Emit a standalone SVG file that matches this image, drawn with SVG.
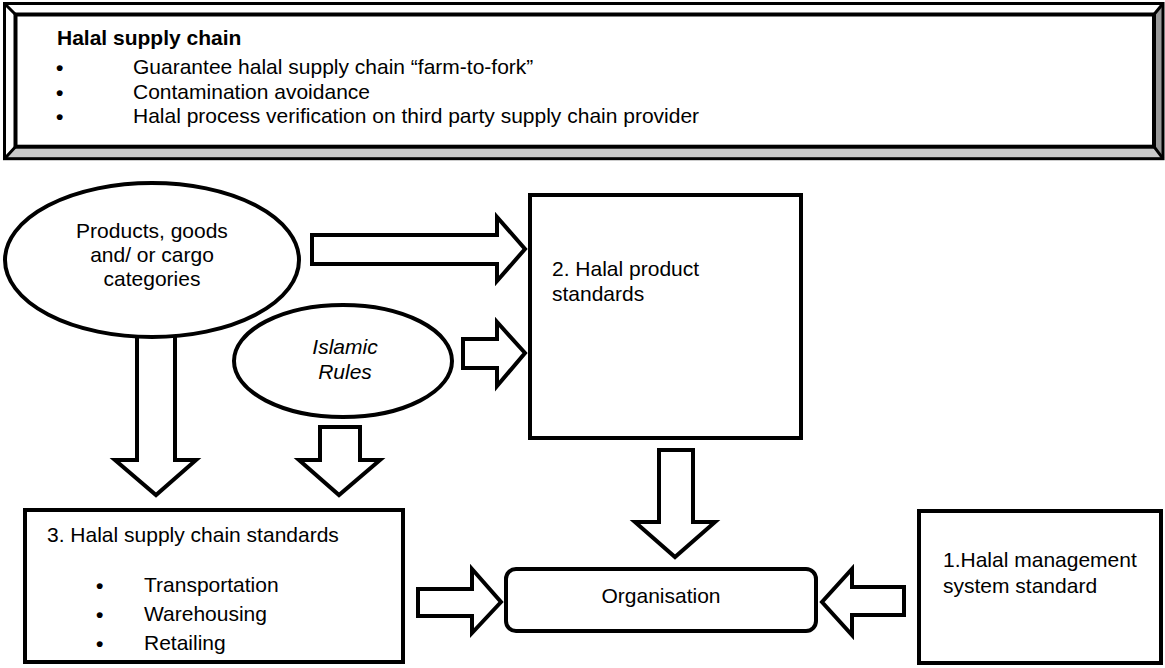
<svg xmlns="http://www.w3.org/2000/svg" width="1165" height="668" viewBox="0 0 1165 668">
<style>
text{font-family:"Liberation Sans",Arial,sans-serif;font-size:21px;fill:#000}
.b{font-weight:bold}
.i{font-style:italic}
.m{text-anchor:middle}
.bl{font-weight:bold}
.shape{fill:#fff;stroke:#000;stroke-width:4}
.arrow{fill:#fff;stroke:#000;stroke-width:4;stroke-linejoin:miter;stroke-miterlimit:10}
.edge{fill:none;stroke:#000;stroke-width:3}
</style>
<rect width="1165" height="668" fill="#fff"/>
<g id="header">
  <polygon points="4.5,3.5 1163,3.5 1154,14.5 15.5,14.5" fill="#fff"/>
  <polygon points="4.5,3.5 15.5,14.5 15.5,146.7 4.5,158.7" fill="#fff"/>
  <polygon points="1163,3.5 1163,158.7 1154,146.7 1154,14.5" fill="#999"/>
  <polygon points="4.5,158.7 15.5,146.7 1154,146.7 1163,158.7" fill="#c8c8c8"/>
  <rect x="4.5" y="3.5" width="1158.5" height="155.2" fill="none" stroke="#000" stroke-width="3"/>
  <rect x="15.5" y="14.5" width="1138.5" height="132.2" fill="none" stroke="#000" stroke-width="4"/>
  <path class="edge" d="M4.5,3.5 L15.5,14.5 M1163,3.5 L1154,14.5 M4.5,158.7 L15.5,146.7 M1163,158.7 L1154,146.7"/>
  <text class="b" x="57" y="45">Halal supply chain</text>
  <text class="bl" x="56" y="75">•</text>
  <text x="133" y="74">Guarantee halal supply chain “farm-to-fork”</text>
  <text class="bl" x="56" y="100">•</text>
  <text x="133" y="99">Contamination avoidance</text>
  <text class="bl" x="56" y="124">•</text>
  <text x="133" y="123">Halal process verification on third party supply chain provider</text>
</g>
<g id="connectors">
  <polygon class="arrow" points="312,235 497,235 497,217 525,249 497,281 497,264 312,264"/>
  <polygon class="arrow" points="463,339 497,339 497,322 525,353 497,386 497,368 463,368"/>
  <polygon class="arrow" points="137,330 175,330 175,460 196,460 156,495 115,460 137,460"/>
  <polygon class="arrow" points="320,427 360,427 360,460 380,460 339,495 299,460 320,460"/>
  <polygon class="arrow" points="659,450 693,450 693,522 715,522 675,557 635,522 659,522"/>
  <polygon class="arrow" points="418,589 472,589 472,569 501,602 472,633 472,616 418,616"/>
  <polygon class="arrow" points="904,587 852,587 852,569 822,602 852,635 852,615 904,615"/>
</g>
<g id="products">
  <ellipse class="shape" cx="152" cy="260" rx="147" ry="77"/>
  <text class="m" x="152" y="238">Products, goods</text>
  <text class="m" x="152" y="262">and/ or cargo</text>
  <text class="m" x="152" y="286">categories</text>
</g>
<g id="islamic-rules">
  <ellipse class="shape" cx="343" cy="361" rx="109" ry="56"/>
  <text class="m i" x="345" y="354">Islamic</text>
  <text class="m i" x="345" y="379">Rules</text>
</g>
<g id="product-standards">
  <rect class="shape" x="530" y="195" width="271" height="243"/>
  <text x="552" y="276">2. Halal product</text>
  <text x="552" y="301">standards</text>
</g>
<g id="supply-chain-standards">
  <rect class="shape" x="25" y="510" width="378" height="152"/>
  <text x="47" y="542">3. Halal supply chain standards</text>
  <text class="bl" x="96" y="593">•</text>
  <text x="144" y="592">Transportation</text>
  <text class="bl" x="96" y="622">•</text>
  <text x="144" y="621">Warehousing</text>
  <text class="bl" x="96" y="651">•</text>
  <text x="144" y="650">Retailing</text>
</g>
<g id="organisation">
  <rect class="shape" x="506" y="569" width="310" height="62" rx="10"/>
  <text class="m" x="661" y="603">Organisation</text>
</g>
<g id="management-standard">
  <rect class="shape" x="919" y="511" width="242" height="152"/>
  <text x="943" y="567">1.Halal management</text>
  <text x="943" y="593">system standard</text>
</g>
</svg>
